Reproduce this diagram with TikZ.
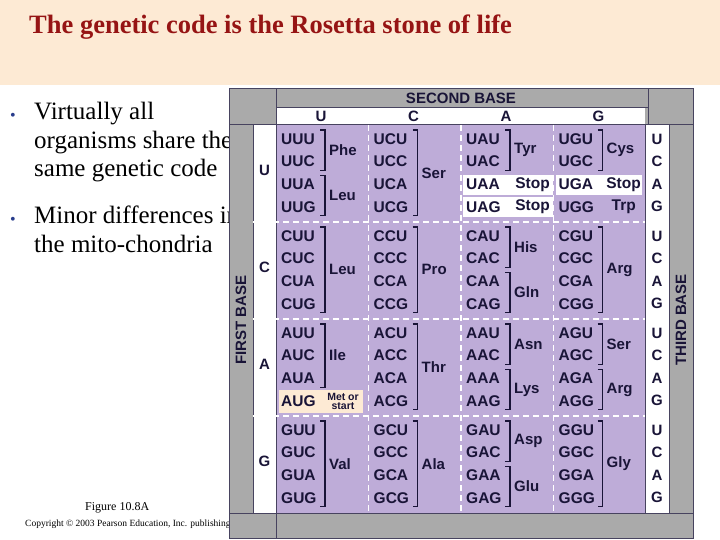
\documentclass[tikz,border=0pt]{standalone}
\usepackage{fontspec}
\setmainfont{Liberation Serif}
\newfontfamily\hv{Liberation Sans}
\begin{document}
\begin{tikzpicture}[x=1pt,y=-1pt,
  cod/.style={font=\hv\bfseries\fontsize{15.5}{16}\selectfont,text=ink,inner sep=0pt,anchor=west},
  aa/.style={font=\hv\bfseries\fontsize{15}{16}\selectfont,text=ink,inner sep=0pt,anchor=west},
  hdr/.style={font=\hv\bfseries\fontsize{15}{16}\selectfont,text=ink,inner sep=0pt},
  br/.style={draw=ink,line width=1.2pt},
  dsh/.style={draw=white,line width=1.2pt,dash pattern=on 6pt off 4pt}]
\definecolor{peach}{RGB}{253,234,212}
\definecolor{ttl}{RGB}{150,20,20}
\definecolor{purp}{RGB}{190,172,216}
\definecolor{gry}{RGB}{170,170,170}
\definecolor{ink}{RGB}{25,20,55}
\definecolor{met}{RGB}{253,234,212}
\definecolor{bul}{RGB}{40,60,140}
\useasboundingbox (0,0) rectangle (720,540);
\fill[white] (0,0) rectangle (720,540);
\fill[peach] (0,0) rectangle (720,85);
\node[anchor=west,text=ttl,font=\bfseries\fontsize{26.5}{30}\selectfont,inner sep=0] (title) at (29,27) {The genetic code is the Rosetta stone of life};
\node[anchor=west,font=\fontsize{16}{20}\selectfont,inner sep=0,text=bul] (b1) at (10,117) {\textbullet};
\node[anchor=north west,align=left,font=\fontsize{25}{28.5}\selectfont,inner sep=0] (t1) at (34,102) {Virtually all\\organisms share the\\same genetic code};
\node[anchor=west,font=\fontsize{16}{20}\selectfont,inner sep=0,text=bul] (b2) at (10,221) {\textbullet};
\node[anchor=north west,align=left,font=\fontsize{25}{28.5}\selectfont,inner sep=0] (t2) at (34,206) {Minor differences in\\the mito-chondria};
\node[anchor=west,font=\fontsize{12}{14}\selectfont,inner sep=0] (fig) at (85,508) {Figure 10.8A};
\node[anchor=west,font=\fontsize{9.5}{11}\selectfont,inner sep=0] (copy) at (25,524) {Copyright \textcopyright{} 2003 Pearson Education, Inc. publishing as Benjamin Cummings};
% table
\fill[gry] (229,89) rectangle (693,538);
\fill[white] (276,108) rectangle (645,125);
\fill[white] (253,125) rectangle (276,513);
\fill[white] (645,125) rectangle (669,513);
\fill[purp] (276,125) rectangle (645,513);
\draw[ink!80,line width=1pt] (229,89) rectangle (693,538);
\draw[ink!80,line width=1pt] (276,89) -- (276,538) (229,125) -- (693,125) (229,513) -- (693,513)
  (253,125) -- (253,513) (276,108) -- (648,108) (645,125) -- (645,513) (669,125)--(669,513) (648,89)--(648,125);
\node[hdr] (sb) at (461,98.5) {SECOND BASE};
\foreach \L [count=\i from 0] in {U,C,A,G}{
  \pgfmathsetmacro\cx{321+92.5*\i}
  \node[hdr] at (\cx,116.5) {\L};
  \pgfmathsetmacro\by{125+97*\i+45}
  \node[hdr] at (264.5,\by) {\L};
}
\node[hdr,rotate=90] (fb) at (241,320) {FIRST BASE};
\node[hdr,rotate=90] (tb) at (681,320) {THIRD BASE};
% white cells
\fill[white] (463,175) rectangle (553,195);
\fill[white] (463,197) rectangle (553,217);
\fill[white] (556,175) rectangle (642,195);
\fill[met] (279,390) rectangle (363,413);
% dashed
\foreach \y in {222,319,416} \draw[dsh] (253,\y) -- (645,\y);
\foreach \x in {368.5,461,553.5} \draw[dsh] (\x,125) -- (\x,513);
% codons
\foreach \f [count=\i from 0] in {U,C,A,G}{
 \foreach \s [count=\j from 0] in {U,C,A,G}{
  \foreach \t [count=\k from 0] in {U,C,A,G}{
    \pgfmathsetmacro\xx{276+92.5*\j+5}
    \pgfmathsetmacro\yy{125+97*\i+14+22.6*\k}
    \node[cod] at (\xx,\yy) {\f\s\t};
  }
  \pgfmathsetmacro\ty{125+97*\i+14+22.6*\j}
  \node[hdr] at (657,\ty) {\s};
 }
}
\newcommand\grp[5]{% col, block, r1, r2, label
  \pgfmathsetmacro\gx{276+92.5*#1+49}
  \pgfmathsetmacro\gya{125+97*#2+14+22.6*#3-9}
  \pgfmathsetmacro\gyb{125+97*#2+14+22.6*#4+9}
  \pgfmathsetmacro\gym{(\gya+\gyb)/2}
  \draw[br] (\gx-5,\gya) -- (\gx,\gya) -- (\gx,\gyb) -- (\gx-5,\gyb);
  \node[aa] at (\gx+4,\gym) {#5};}
\grp00 01{Phe}\grp00 23{Leu}\grp10 03{Ser}\grp20 01{Tyr}\grp30 01{Cys}
\grp01 03{Leu}\grp11 03{Pro}\grp21 01{His}\grp21 23{Gln}\grp31 03{Arg}
\grp02 02{Ile}\grp12 03{Thr}\grp22 01{Asn}\grp22 23{Lys}\grp32 01{Ser}\grp32 23{Arg}
\grp03 03{Val}\grp13 03{Ala}\grp23 01{Asp}\grp23 23{Glu}\grp33 03{Gly}
\node[cod,anchor=east] at (550,185) {Stop};
\node[cod,anchor=east] at (550,207) {Stop};
\node[cod,anchor=east] at (641,185) {Stop};
\node[cod,anchor=east] at (636,207) {Trp};
\node[align=center,font=\hv\bfseries\fontsize{10.5}{9}\selectfont,text=ink,inner sep=0] at (343,401.5) {Met or\\start};
\end{tikzpicture}
\end{document}
